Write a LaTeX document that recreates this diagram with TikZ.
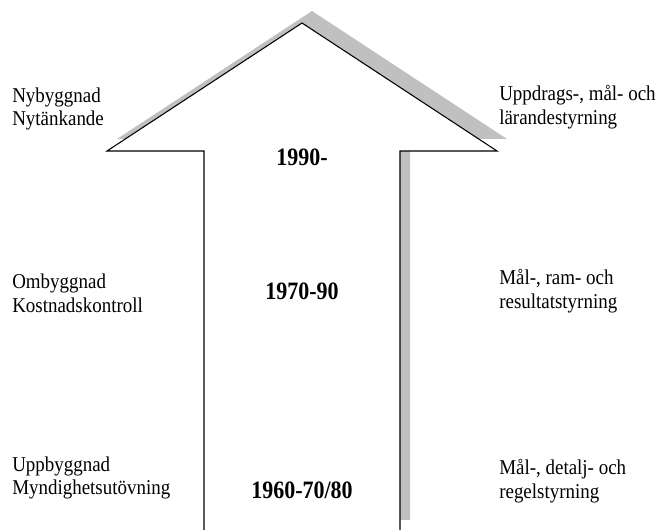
\documentclass[tikz,border=0pt]{standalone}
\usepackage{fontspec}
\setmainfont{Liberation Serif}[FakeStretch=0.9]
\newfontfamily\yearfont{Liberation Serif}[FakeStretch=0.88]
\definecolor{shadowgray}{RGB}{192,192,192}
\begin{document}
\begin{tikzpicture}[x=.75pt,y=-.75pt,font=\fontsize{15.8}{17.8}\selectfont,
  lab/.style={anchor=west,align=left,inner sep=0pt},
  yr/.style={font=\yearfont\bfseries\fontsize{18.75}{20}\selectfont,inner sep=0pt}]
  \useasboundingbox (0,0) rectangle (658,530);
  % shadow behind the arrow
  \fill[shadowgray] (214,520) -- (214,139) -- (117,139) -- (312,11)
    -- (507,139) -- (410,139) -- (410,520) -- cycle;
  \draw[fill=white,line width=.8pt] (204,530) -- (204,151) -- (107,151)
    -- (302,23) -- (497,151) -- (400,151) -- (400,530);
  \foreach \y/\nm/\lab in {109/nyb/{Nybyggnad\\Nytänkande},
      293/omb/{Ombyggnad\\Kostnadskontroll},
      478/upp/{Uppbyggnad\\Myndighetsutövning}}
    \node[lab] (\nm) at (12,\y) {\lab};
  \foreach \y/\nm/\lab in {107/uls/{Uppdrags-, mål- och\\lärandestyrning},
      291/rrs/{Mål-, ram- och\\resultatstyrning},
      481/drs/{Mål-, detalj- och\\regelstyrning}}
    \node[lab] (\nm) at (499,\y) {\lab};
  \node[yr] (y90) at (302,157) {1990-};
  \node[yr] (y70) at (302,291) {1970-90};
  \node[yr] (y60) at (302,490) {1960-70/80};
\end{tikzpicture}
\end{document}
